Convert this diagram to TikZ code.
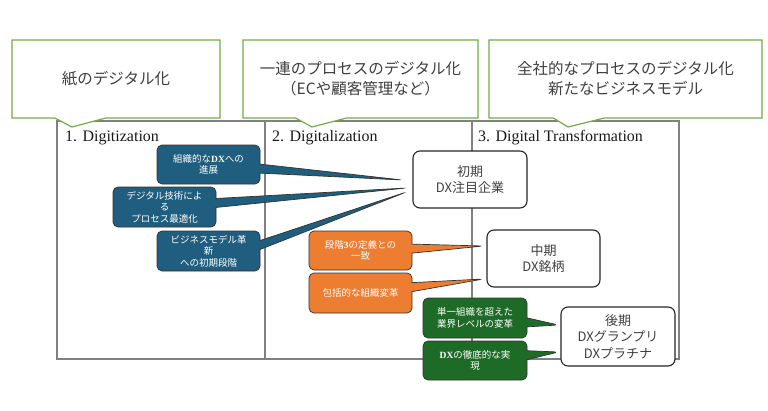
\documentclass[tikz,border=0pt]{standalone}
\usepackage{fontspec}
\newfontfamily\jpfont{Noto Sans CJK JP}
\newfontfamily\romfont{Liberation Serif}
\usetikzlibrary{shapes.callouts}
\definecolor{memogreen}{HTML}{70AD47}
\definecolor{dxblue}{HTML}{1F5E7E}
\definecolor{dxorange}{HTML}{ED7D31}
\definecolor{dxgreen}{HTML}{1E6B27}
\newcommand{\rom}[1]{{\romfont\bfseries #1}}

\begin{document}
\begin{tikzpicture}[x=1pt,y=-1pt,
  stagebox/.style={draw=black!85,line width=1.1pt,fill=white,rounded corners=7pt,
    minimum width=114pt,minimum height=57pt,inner sep=1pt,align=center,
    text=black!75,font=\jpfont\fontsize{13}{16.5}\selectfont},
  memo/.style={rectangle callout,draw=memogreen,line width=1.2pt,fill=white,
    minimum height=78pt,inner sep=1pt,align=center,text=black!75,
    font=\jpfont\fontsize{15.5}{20}\selectfont,callout pointer width=51pt},
  tag/.style={rectangle callout,draw=black!80,line width=0.7pt,rounded corners=5pt,
    minimum width=103pt,minimum height=39pt,inner sep=1pt,align=center,text=white,
    font=\jpfont\fontsize{9.5}{11.5}\selectfont,callout pointer width=9pt},
  head/.style={anchor=base west,inner sep=0pt,text=black!90,
    font=\romfont\fontsize{16}{18}\selectfont}]

\useasboundingbox (0,0) rectangle (768,410);

% frame of the three phases
\draw[gray,line width=1.2pt] (57,121) rectangle (679,359);
\draw[gray,line width=1.2pt] (265,121) -- (265,359);
\draw[gray,line width=1.2pt] (472,121) -- (472,359);
\node[head] (h1) at (65,141) {1. Digitization};
\node[head] (h2) at (272,141) {2. Digitalization};
\node[head] (h3) at (478,141) {3. Digital Transformation};

% memos on top
\coordinate (m1) at (72,127);
\coordinate (m2) at (312,127);
\coordinate (m3) at (568,127);
\node[memo,minimum width=208pt,callout absolute pointer={(m1)}] (memo1) at (116,79) {紙のデジタル化};
\node[memo,minimum width=235pt,callout absolute pointer={(m2)}] (memo2) at (360.5,79)
  {一連のプロセスのデジタル化\\（ECや顧客管理など）};
\node[memo,minimum width=273pt,callout absolute pointer={(m3)}] (memo3) at (625.5,79)
  {全社的なプロセスのデジタル化\\新たなビジネスモデル};

% stages
\node[stagebox] (early) at (470,179.5) {初期\\DX注目企業};
\node[stagebox,minimum width=113pt] (mid) at (543.5,258.5) {中期\\DX銘柄};
\node[stagebox,minimum height=59pt] (late) at (618,336.5) {後期\\DXグランプリ\\DXプラチナ};

\coordinate (e1) at ([xshift=-10pt,yshift=-0.5pt]early.west);
\coordinate (e2) at ([xshift=-6pt,yshift=-8.5pt]early.west);
\coordinate (e3) at ([xshift=-6pt,yshift=-12.5pt]early.west);
\coordinate (c1) at ([xshift=-3pt,yshift=12.5pt]mid.west);
\coordinate (c2) at ([xshift=-3pt,yshift=-20.5pt]mid.west);
\coordinate (l1) at ([xshift=-2pt,yshift=11.5pt]late.west);
\coordinate (l2) at ([xshift=-2pt,yshift=-15.5pt]late.west);

% tags
\node[tag,fill=dxblue,callout absolute pointer={(e1)}] (b1) at (208.5,164.5) {組織的な\rom{DX}への\\進展};
\node[tag,fill=dxblue,minimum height=40pt,callout absolute pointer={(e2)}] (b2) at (164.5,207)
  {デジタル技術によ\\る\\プロセス最適化};
\node[tag,fill=dxblue,minimum height=40pt,callout absolute pointer={(e3)}] (b3) at (208.5,251)
  {ビジネスモデル革\\新\\への初期段階};
\node[tag,fill=dxorange,callout absolute pointer={(c1)}] (o1) at (360.5,250.5) {段階\rom{3}の定義との\\一致};
\node[tag,fill=dxorange,minimum height=40pt,callout absolute pointer={(c2)}] (o2) at (360.5,293) {包括的な組織変革};
\node[tag,fill=dxgreen,minimum width=104pt,minimum height=40pt,callout absolute pointer={(l1)}] (g1) at (475,318)
  {単一組織を超えた\\業界レベルの変革};
\node[tag,fill=dxgreen,minimum width=104pt,callout absolute pointer={(l2)}] (g2) at (475,360.5) {\rom{DX}の徹底的な実\\現};
\end{tikzpicture}
\end{document}
